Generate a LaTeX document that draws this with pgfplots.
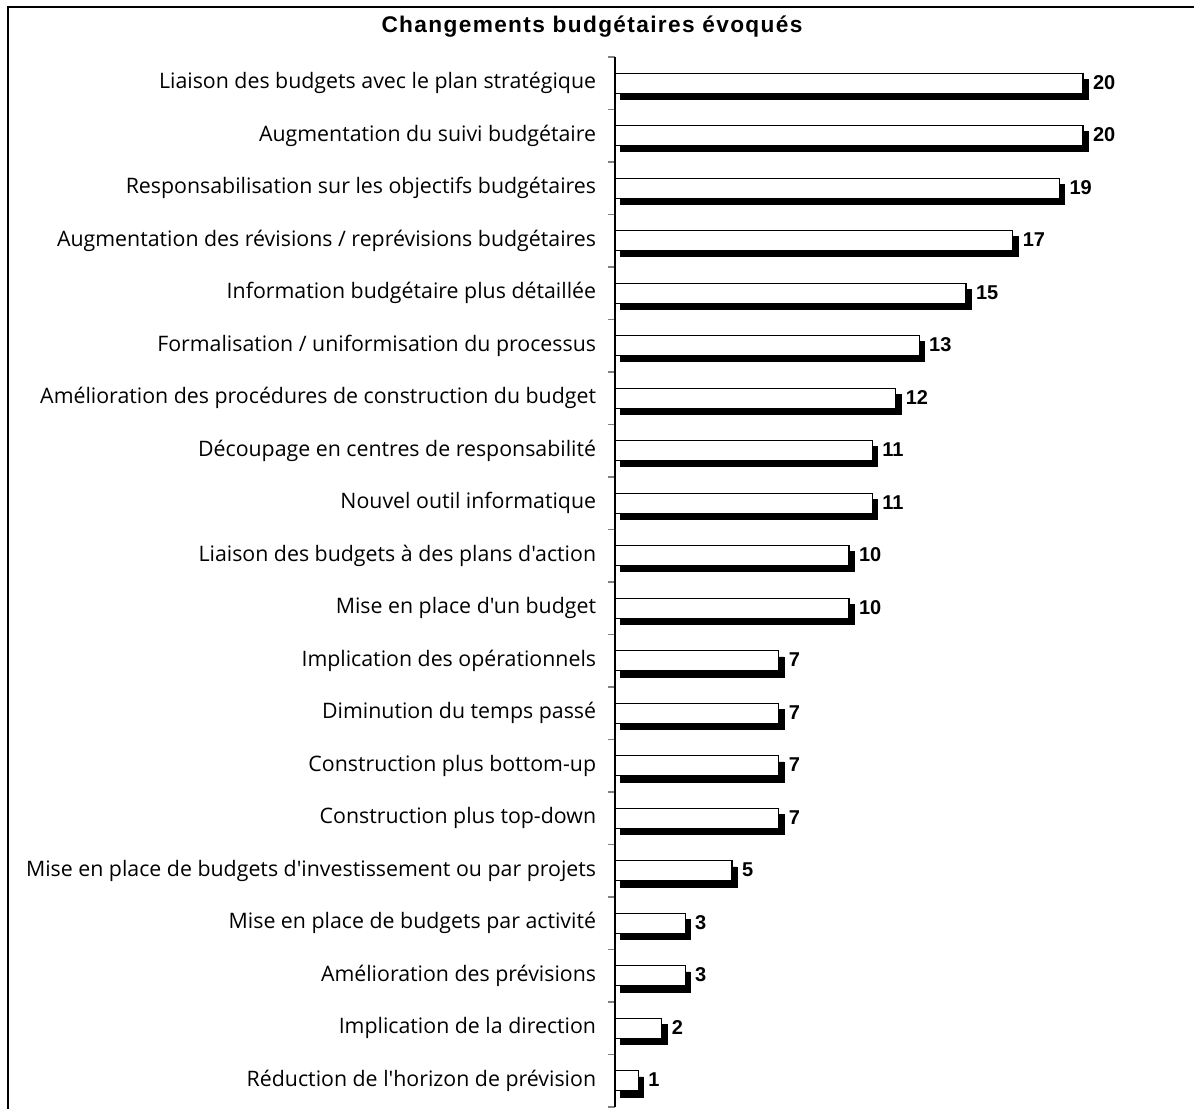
\documentclass[border=0pt]{standalone}
\usepackage{fontspec}
\setmainfont{Liberation Sans}
\newfontfamily\labelfont{Open Sans}
\newfontfamily\titlefont[LetterSpace=6]{Liberation Sans}
\usepackage{pgfplots}
\usepackage{pgfplotstable}
\pgfplotsset{compat=1.18}
\pgfplotstableread{
i v
0 20
1 20
2 19
3 17
4 15
5 13
6 12
7 11
8 11
9 10
10 10
11 7
12 7
13 7
14 7
15 5
16 3
17 3
18 2
19 1
}\data
\begin{document}
\begin{tikzpicture}
\useasboundingbox (0,0) rectangle (895.5pt,831pt);
\draw[line width=0.8pt] (6pt,-10pt) -- (6pt,825.75pt) -- (910pt,825.75pt);
\node[font=\titlefont\bfseries\fontsize{17}{20}\selectfont, anchor=base] at (444pt,806.25pt) {Changements budgétaires évoqués};
\begin{axis}[
  at={(461.25pt,0.75pt)}, anchor=south west,
  scale only axis, width=421.2pt, height=787.5pt,
  xmin=0, xmax=24, ymin=-0.5, ymax=19.5, y dir=reverse,
  axis x line=none, axis y line*=left,
  ytick={0,...,19},
  yticklabels={
    Liaison des budgets avec le plan stratégique,
    Augmentation du suivi budgétaire,
    Responsabilisation sur les objectifs budgétaires,
    Augmentation des révisions / reprévisions budgétaires,
    Information budgétaire plus détaillée,
    Formalisation / uniformisation du processus,
    Amélioration des procédures de construction du budget,
    Découpage en centres de responsabilité,
    Nouvel outil informatique,
    Liaison des budgets à des plans d'action,
    Mise en place d'un budget,
    Implication des opérationnels,
    Diminution du temps passé,
    Construction plus bottom-up,
    Construction plus top-down,
    Mise en place de budgets d'investissement ou par projets,
    Mise en place de budgets par activité,
    Amélioration des prévisions,
    Implication de la direction,
    Réduction de l'horizon de prévision},
  minor ytick={-0.5,0.5,...,19.5},
  major tick length=0pt, minor tick length=5.25pt, tick align=outside,
  y axis line style={line width=0.9pt},
  minor tick style={gray, line width=0.8pt},
  yticklabel style={font=\labelfont\fontsize{16}{19}\selectfont, inner sep=0pt, xshift=-14pt},
  /pgf/number format/assume math mode=true,
  clip=false,
]
\addplot[xbar, bar width=15pt, bar shift=0pt, fill=black, draw=black, xshift=3.75pt, yshift=-4.5pt] table[x=v,y=i] {\data};
\addplot[xbar, bar width=15pt, bar shift=0pt, fill=white, draw=black, line width=1pt,
  nodes near coords,
  nodes near coords style={anchor=west, inner sep=0pt, xshift=7pt, yshift=0.5pt, font=\bfseries\fontsize{15}{18}\selectfont, text=black}] table[x=v,y=i] {\data};
\end{axis}
\end{tikzpicture}
\end{document}
